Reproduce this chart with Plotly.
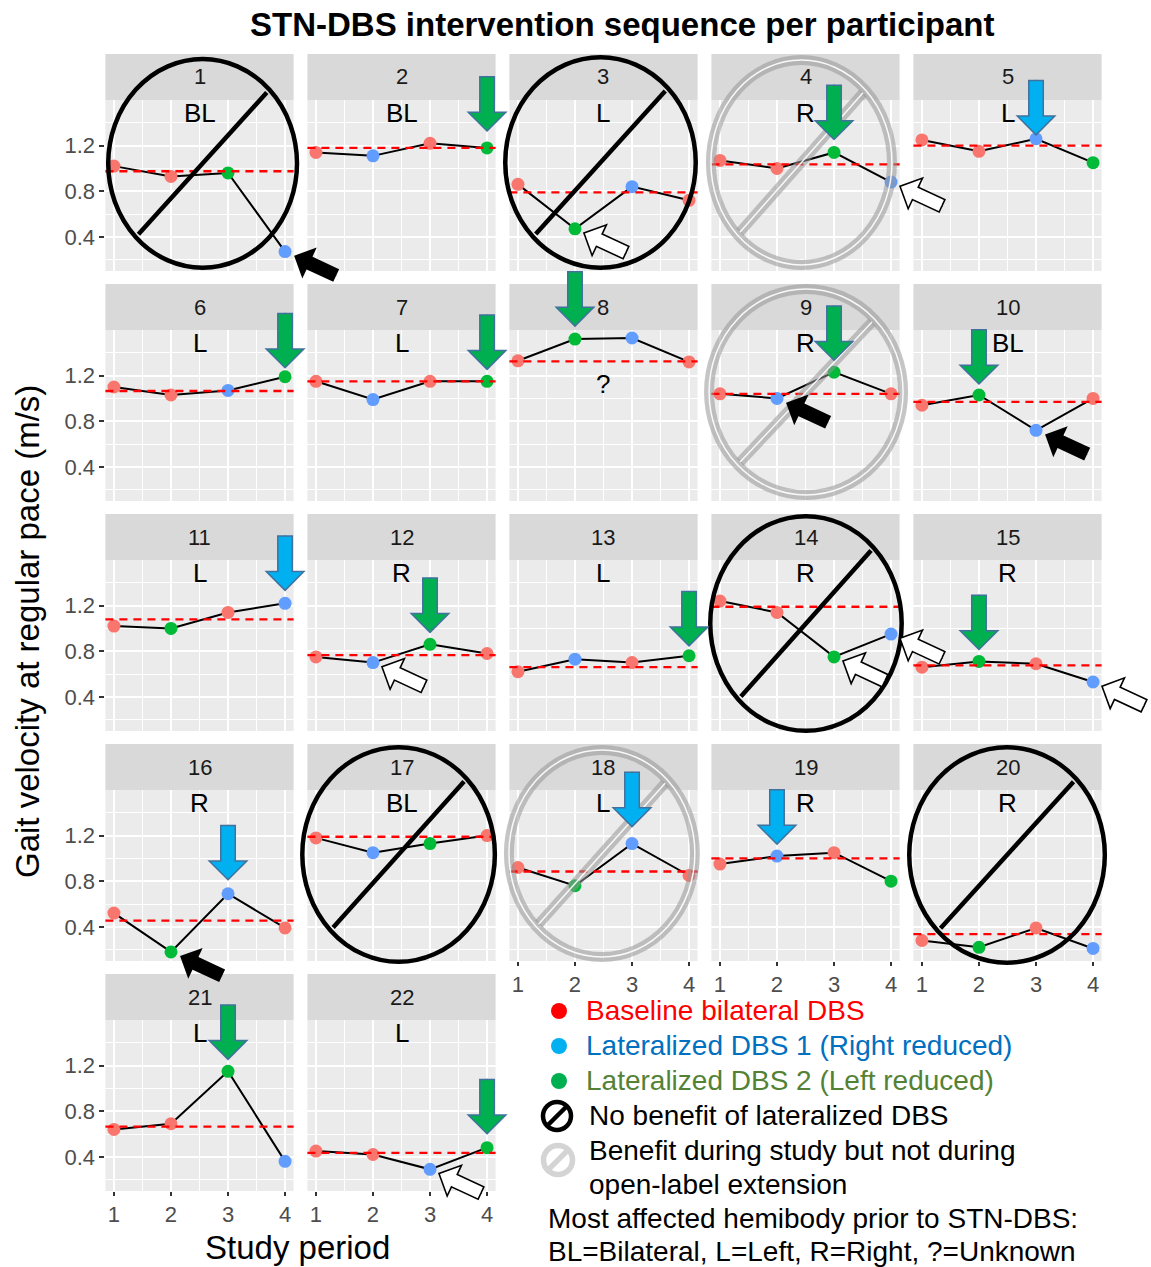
import math
import plotly.graph_objects as go

W, H = 1151, 1267
FONT = "Liberation Sans, Arial, sans-serif"

# ---------------- data ----------------
participant = list(range(1, 23))
hemibody = ["BL", "BL", "L", "R", "L", "L", "L", "?", "R", "BL", "L",
            "R", "L", "R", "R", "R", "BL", "L", "R", "R", "L", "L"]
# condition per study period: B = baseline bilateral DBS,
# 1 = lateralized DBS 1 (right reduced), 2 = lateralized DBS 2 (left reduced)
sequence = ["BB21", "B1B2", "B21B", "BB21", "BB12", "BB12", "B1B2", "B21B", "B12B", "B21B", "B2B1",
            "B12B", "B1B2", "BB21", "B2B1", "B21B", "B12B", "B21B", "B1B2", "B2B1", "BB21", "BB12"]
periods = [1, 2, 3, 4]
velocity_period1 = [1.02, 1.14, 0.86, 1.07, 1.25, 1.10, 1.15, 1.33, 1.04, 0.94, 1.02,
                    0.75, 0.62, 1.24, 0.66, 0.52, 1.18, 0.92, 0.95, 0.28, 0.64, 0.45]
velocity_period2 = [0.93, 1.11, 0.47, 1.00, 1.15, 1.03, 0.99, 1.52, 1.00, 1.03, 1.00,
                    0.70, 0.73, 1.14, 0.71, 0.18, 1.05, 0.76, 1.02, 0.22, 0.69, 0.42]
velocity_period3 = [0.96, 1.22, 0.84, 1.14, 1.26, 1.07, 1.15, 1.53, 1.23, 0.72, 1.14,
                    0.86, 0.70, 0.75, 0.69, 0.69, 1.13, 1.13, 1.05, 0.39, 1.15, 0.29]
velocity_period4 = [0.27, 1.18, 0.72, 0.88, 1.05, 1.19, 1.15, 1.32, 1.04, 1.00, 1.22,
                    0.78, 0.76, 0.95, 0.53, 0.39, 1.20, 0.85, 0.80, 0.21, 0.36, 0.48]
y_ticks = [0.4, 0.8, 1.2]
y_ticktext = ["0.4", "0.8", "1.2"]

# chosen setting (down block arrow): participant and study period
chosen_participant = [2, 4, 5, 6, 7, 8, 9, 10, 11, 12, 13, 15, 16, 18, 19, 21, 22]
chosen_period = [4, 3, 3, 4, 4, 2, 3, 2, 4, 3, 4, 2, 3, 3, 2, 3, 4]
# pointer arrows (filled black / white outlined)
pointer_participant = [1, 3, 4, 9, 10, 12, 14, 14, 15, 16, 22]
pointer_period = [4, 2, 4, 2, 3, 2, 3, 4, 4, 2, 3]
pointer_black = [True, False, False, True, True, False, False, False, False, True, False]
# circle-slash marks
no_benefit = [1, 3, 14, 17, 20]
benefit_study_only = [4, 9, 18]

# ---------------- styles / layout geometry ----------------
point_color = {"B": "#F8766D", "1": "#619CFF", "2": "#00BA38"}
arrow_fill = {"1": "#00B0F0", "2": "#00B050"}
arrow_outline = "#41719C"
chosen_gap = [18, 14, 5, 10, 13, 14, 13, 12, 14, 13, 11, 13, 15, 18, 13, 13, 15]

COL_LEFT0, COL_PITCH, PANEL_W = 105.4, 202.0, 188.2
ROW_TOP0, ROW_PITCH, PANEL_H, STRIP_H = 100.0, 230.0, 171.0, 46.0
X_RANGE = [0.85, 4.15]
Y_RANGE = [0.10, 1.60]

# circle bounds in panel-domain units (x0, x1, y0, y1), outer edge
circle_bounds = {
    1: (0.003, 1.030, 0.006, 1.253),
    3: (-0.034, 1.002, 0.006, 1.263),
    4: (-0.029, 0.986, 0.006, 1.263),
    9: (-0.039, 1.045, 0.006, 1.269),
    14: (-0.018, 1.023, -0.012, 1.269),
    17: (-0.039, 1.008, -0.018, 1.263),
    18: (-0.029, 1.012, -0.006, 1.263),
    20: (-0.034, 1.029, -0.023, 1.263),
}

velocities = list(zip(velocity_period1, velocity_period2, velocity_period3, velocity_period4))


def sfx(i):
    return "" if i == 1 else str(i)


fig = go.Figure()
layout = dict(
    width=W, height=H, margin=dict(l=0, r=0, t=0, b=0),
    paper_bgcolor="white", plot_bgcolor="#EBEBEB",
    showlegend=False, hovermode=False, font=dict(family=FONT),
)
shapes = []
annotations = []

for idx, p in enumerate(participant):
    r, c = idx // 5, idx % 5
    s = sfx(p)
    left = COL_LEFT0 + COL_PITCH * c
    top = ROW_TOP0 + ROW_PITCH * r
    bottom_panel = p + 5 > len(participant)
    first_col = c == 0
    layout["xaxis" + s] = dict(
        domain=[left / W, (left + PANEL_W) / W], range=X_RANGE, anchor="y" + s,
        tickmode="array", tickvals=periods, ticktext=[str(v) for v in periods],
        showgrid=True, gridcolor="white", gridwidth=2.2, zeroline=False, showline=False,
        minor=dict(tickmode="array", tickvals=[v + 0.5 for v in periods[:-1]],
                   showgrid=True, gridcolor="white", gridwidth=1.1),
        ticks="outside" if bottom_panel else "", ticklen=4, tickwidth=2, tickcolor="#333333",
        showticklabels=bottom_panel, tickfont=dict(size=22, color="#4D4D4D", family=FONT),
        fixedrange=True,
    )
    layout["yaxis" + s] = dict(
        domain=[1 - (top + PANEL_H) / H, 1 - top / H], range=Y_RANGE, anchor="x" + s,
        tickmode="array", tickvals=y_ticks, ticktext=y_ticktext,
        showgrid=True, gridcolor="white", gridwidth=2.2, zeroline=False, showline=False,
        minor=dict(tickmode="array", tickvals=[0.2, 0.6, 1.0, 1.4],
                   showgrid=True, gridcolor="white", gridwidth=1.1),
        ticks="outside" if first_col else "", ticklen=5, tickwidth=2, tickcolor="#333333",
        showticklabels=first_col, tickfont=dict(size=22, color="#4D4D4D", family=FONT),
        fixedrange=True,
    )
    vals = list(velocities[idx])
    conds = list(sequence[idx])
    fig.add_trace(go.Scatter(
        x=periods, y=vals, mode="lines+markers", xaxis="x" + s, yaxis="y" + s,
        line=dict(color="black", width=2),
        marker=dict(color=[point_color[k] for k in conds], size=13, line=dict(width=0)),
        cliponaxis=False, showlegend=False,
    ))
    # strip
    shapes.append(dict(type="rect", xref="x%s domain" % s, yref="y%s domain" % s,
                       x0=0, x1=1, y0=1, y1=1 + STRIP_H / PANEL_H,
                       fillcolor="#D9D9D9", line=dict(width=0), layer="below"))
    annotations.append(dict(xref="x%s domain" % s, yref="y%s domain" % s, x=0.5,
                            y=1 + STRIP_H / PANEL_H / 2, text=str(p), showarrow=False,
                            xanchor="center", yanchor="middle",
                            font=dict(size=22, color="#1A1A1A", family=FONT)))
    # baseline mean (red dashed)
    base_vals = [v for v, k in zip(vals, conds) if k == "B"]
    base_mean = sum(base_vals) / len(base_vals)
    shapes.append(dict(type="line", xref="x%s domain" % s, yref="y" + s, x0=0, x1=1,
                       y0=base_mean, y1=base_mean,
                       line=dict(color="#FF0000", width=2.3, dash="8px,6px"), layer="above"))
    # hemibody label
    annotations.append(dict(xref="x%s domain" % s, yref="y" + s, x=0.5,
                            y=1.13 if hemibody[idx] == "?" else 1.49,
                            text=hemibody[idx], showarrow=False, xanchor="center", yanchor="middle",
                            font=dict(size=26, color="black", family=FONT)))

# ---------------- circle-slash marks ----------------
for p in no_benefit + benefit_study_only:
    s = sfx(p)
    x0, x1, y0, y1 = circle_bounds[p]
    gray = p in benefit_study_only
    sw = 10 if gray else 4.5
    dx, dy = sw / 2 / PANEL_W, sw / 2 / PANEL_H
    x0, x1, y0, y1 = x0 + dx, x1 - dx, y0 + dy, y1 - dy
    cx, cy, rx, ry = (x0 + x1) / 2, (y0 + y1) / 2, (x1 - x0) / 2, (y1 - y0) / 2
    sl = (cx - 0.68 * rx, cy - 0.68 * ry, cx + 0.68 * rx, cy + 0.68 * ry)
    styles = [("rgba(150,150,150,0.55)", 10), ("rgba(255,255,255,0.9)", 1.5)] if gray else [("black", 4.5)]
    for col, w in styles:
        shapes.append(dict(type="circle", xref="x%s domain" % s, yref="y%s domain" % s,
                           x0=x0, x1=x1, y0=y0, y1=y1, line=dict(color=col, width=w),
                           fillcolor="rgba(0,0,0,0)", layer="above"))
        shapes.append(dict(type="line", xref="x%s domain" % s, yref="y%s domain" % s,
                           x0=sl[0], y0=sl[1], x1=sl[2], y1=sl[3],
                           line=dict(color=col, width=w), layer="above"))


# ---------------- block arrows (annotations anchored on data points) ----------------
def block_arrow(xref, yref, x, y, ux, uy, standoff, length, shaft_w, head_len, fill, outline=None, ow=1.5):
    layers = []
    if outline:
        d2 = ow * math.sqrt(2)
        layers.append((outline, shaft_w + 2 * ow, head_len + ow + d2, standoff - d2, length + ow + d2))
    layers.append((fill, shaft_w, head_len, standoff, length))
    for col, sw, hl, so, ln in layers:
        tail = so + ln
        common = dict(xref=xref, yref=yref, x=x, y=y, ax=ux * tail, ay=uy * tail,
                      axref="pixel", ayref="pixel", showarrow=True, text="",
                      font=dict(size=1), borderpad=0, arrowcolor=col)
        annotations.append(dict(common, arrowhead=0, arrowwidth=sw, standoff=so + 0.55 * hl))
        annotations.append(dict(common, arrowhead=1, arrowwidth=1, arrowsize=hl / 3, standoff=so))


for p, per, gap in zip(chosen_participant, chosen_period, chosen_gap):
    idx = p - 1
    s = sfx(p)
    k = sequence[idx][per - 1]
    block_arrow("x" + s, "y" + s, per, velocities[idx][per - 1], 0, -1, gap, 53, 13, 17,
                arrow_fill[k], arrow_outline)

ang = math.radians(25)
ux, uy = math.cos(ang), math.sin(ang)
for p, per, blk in zip(pointer_participant, pointer_period, pointer_black):
    idx = p - 1
    s = sfx(p)
    if blk:
        block_arrow("x" + s, "y" + s, per, velocities[idx][per - 1], ux, uy, 10, 47, 14, 17, "black")
    else:
        block_arrow("x" + s, "y" + s, per, velocities[idx][per - 1], ux, uy, 11, 45, 12, 15,
                    "white", "black", 1.6)

# ---------------- titles ----------------
def px(x):
    return x / W


def py(y):
    return 1 - y / H


annotations.append(dict(xref="paper", yref="paper", x=px(622), y=py(24),
                        text="<b>STN-DBS intervention sequence per participant</b>",
                        showarrow=False, xanchor="center", yanchor="middle",
                        font=dict(size=33, color="black", family=FONT)))
annotations.append(dict(xref="paper", yref="paper", x=px(27), y=py(632),
                        text="Gait velocity at regular pace (m/s)", textangle=-90,
                        showarrow=False, xanchor="center", yanchor="middle",
                        font=dict(size=33, color="black", family=FONT)))
annotations.append(dict(xref="paper", yref="paper", x=px(297), y=py(1247),
                        text="Study period", showarrow=False, xanchor="center", yanchor="middle",
                        font=dict(size=33, color="black", family=FONT)))

# ---------------- legend ----------------
legend_dots = [("#FF0000", 1011, "Baseline bilateral DBS", "#FF0000"),
               ("#00B0F0", 1046, "Lateralized DBS 1 (Right reduced)", "#0070C0"),
               ("#00B050", 1081, "Lateralized DBS 2 (Left reduced)", "#548235")]
for dot_col, yy, txt, txt_col in legend_dots:
    shapes.append(dict(type="circle", xref="paper", yref="paper",
                       x0=px(559 - 8), x1=px(559 + 8), y0=py(yy + 8), y1=py(yy - 8),
                       fillcolor=dot_col, line=dict(width=0)))
    annotations.append(dict(xref="paper", yref="paper", x=px(584), y=py(yy - 1), text=txt,
                            showarrow=False, xanchor="left", yanchor="middle",
                            font=dict(size=28, color=txt_col, family=FONT)))

for (cxp, cyp, rad, col, w) in [(557, 1116, 14, "black", 4.5), (558, 1160, 14.5, "#D4D4D4", 5.5)]:
    shapes.append(dict(type="circle", xref="paper", yref="paper",
                       x0=px(cxp - rad), x1=px(cxp + rad), y0=py(cyp + rad), y1=py(cyp - rad),
                       line=dict(color=col, width=w), fillcolor="rgba(0,0,0,0)"))
    d = rad * 0.68
    shapes.append(dict(type="line", xref="paper", yref="paper",
                       x0=px(cxp - d), y0=py(cyp + d), x1=px(cxp + d), y1=py(cyp - d),
                       line=dict(color=col, width=w)))

legend_text = [(587, 1115, "No benefit of lateralized DBS"),
               (587, 1150, "Benefit during study but not during"),
               (587, 1184, "open-label extension"),
               (546, 1218, "Most affected hemibody prior to STN-DBS:"),
               (546, 1251, "BL=Bilateral, L=Left, R=Right, ?=Unknown")]
for xx, yy, txt in legend_text:
    annotations.append(dict(xref="paper", yref="paper", x=px(xx), y=py(yy), text=txt,
                            showarrow=False, xanchor="left", yanchor="middle",
                            font=dict(size=28, color="black", family=FONT)))

layout["shapes"] = shapes
layout["annotations"] = annotations
fig.update_layout(**layout)
fig.write_html("out.html", config={"displayModeBar": False},
               post_script="document.body.style.margin='0px';document.body.style.overflow='hidden';")
